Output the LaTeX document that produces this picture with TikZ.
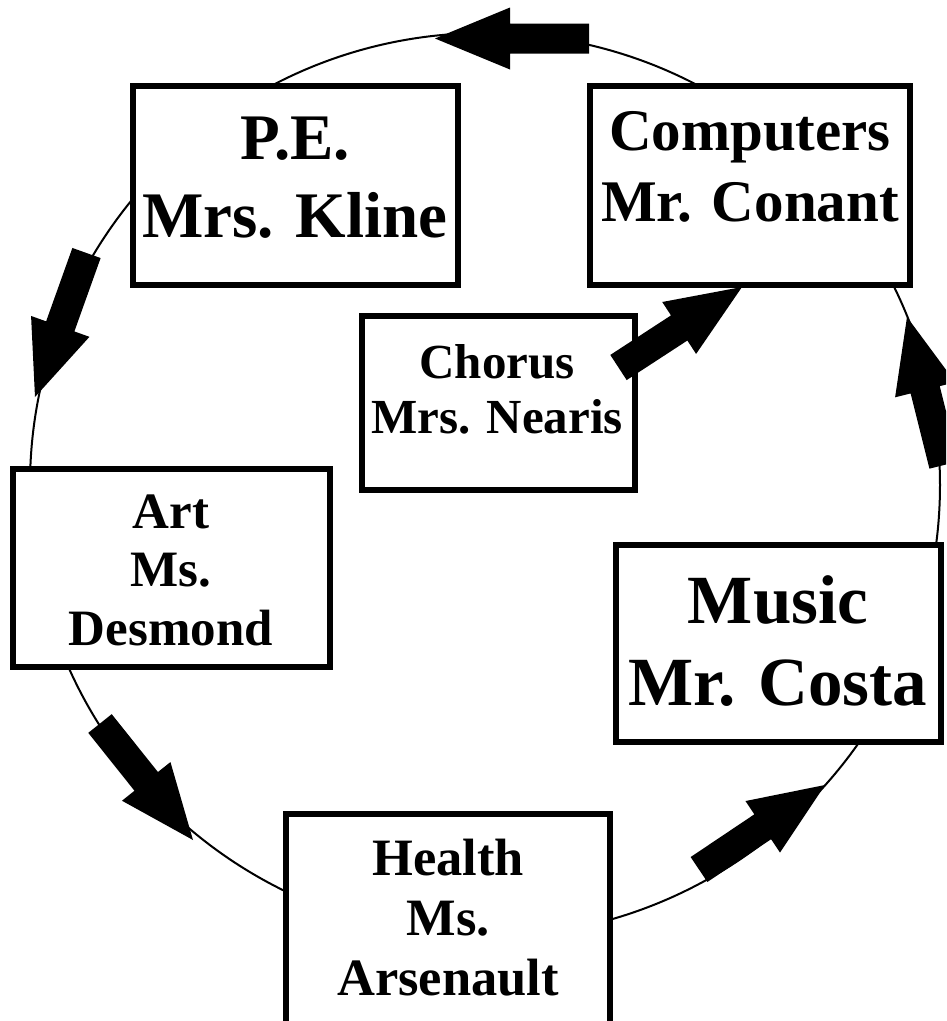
\documentclass[tikz,border=0pt]{standalone}
\usepackage{fontspec}
\setmainfont{Liberation Serif}
\usetikzlibrary{calc}
% block arrow from tail #1 to tip #2
\newcommand\fatarrow[2]{%
  \coordinate (#1h) at ($(#2)!75pt!(#1)$);
  \fill ($(#1)!15pt!90:(#2)$) -- ($(#1h)!15pt!90:(#2)$) -- ($(#1h)!31pt!90:(#2)$)
     -- (#2) -- ($(#1h)!31pt!-90:(#2)$) -- ($(#1h)!15pt!-90:(#2)$)
     -- ($(#1)!15pt!-90:(#2)$) -- cycle;}
\begin{document}
\begin{tikzpicture}[x=1pt,y=-1pt,
  box/.style={draw, line width=6pt, fill=white, inner sep=0pt, outer sep=0pt},
  lbl/.style={anchor=north, inner sep=0pt, outer sep=0pt, align=center},
  ring/.style={line width=2pt}]
\useasboundingbox (0,0) rectangle (946,1021);
\clip (0,0) rectangle (946,1021);
\fill[white] (0,0) rectangle (946,1021);
% the ring
\draw[ring] (485,485) ellipse [x radius=455pt, y radius=452pt];
% boxes
\node[box, minimum width=325pt, minimum height=198.5pt] (pe) at (295,185.25) {};
\node[box, minimum width=320pt, minimum height=198.5pt] (comp) at (750,185.25) {};
\node[box, minimum width=273pt, minimum height=173.5pt] (chor) at (498,402.75) {};
\node[box, minimum width=317.5pt, minimum height=197.5pt] (art) at (171.25,567.75) {};
\node[box, minimum width=325pt, minimum height=197.5pt] (mus) at (778,643.25) {};
\node[box, minimum width=324.5pt, minimum height=240pt] (hea) at (447.75,933.5) {};
% texts
\node[lbl, font=\bfseries\fontsize{65}{78}\selectfont] (pet) at (295,104.4) {\strut P.E.\\Mrs. Kline};
\node[lbl, font=\bfseries\fontsize{59}{71}\selectfont] (compt) at (750,100.3) {\strut Computers\\Mr. Conant};
\node[lbl, font=\bfseries\fontsize{49}{55}\selectfont] (chort) at (497,339.5) {\strut Chorus\\Mrs. Nearis};
\node[lbl, font=\bfseries\fontsize{51}{58.5}\selectfont] (artt) at (171,487.05) {\strut Art\\Ms.\\Desmond};
\node[lbl, font=\bfseries\fontsize{69}{82}\selectfont] (must) at (778,565.6) {\strut Music\\Mr. Costa};
\node[lbl, font=\bfseries\fontsize{52.5}{60}\selectfont] (heat) at (448,833) {\strut Health\\Ms.\\Arsenault};
% arrows
\coordinate (a1t) at (589,38.5);   \coordinate (a1p) at (435,38.5);
\coordinate (a2t) at (86.5,253);   \coordinate (a2p) at (35,397);
\coordinate (a3t) at (100,723.5);  \coordinate (a3p) at (193,840);
\coordinate (a4t) at (699,869.5);  \coordinate (a4p) at (825,785);
\coordinate (a5t) at (944,465);    \coordinate (a5p) at (907,317);
\coordinate (a6t) at (618.5,367.5);\coordinate (a6p) at (742,287);
\fatarrow{a1t}{a1p}
\fatarrow{a2t}{a2p}
\fatarrow{a3t}{a3p}
\fatarrow{a4t}{a4p}
\fatarrow{a5t}{a5p}
\fatarrow{a6t}{a6p}
\end{tikzpicture}
\end{document}
